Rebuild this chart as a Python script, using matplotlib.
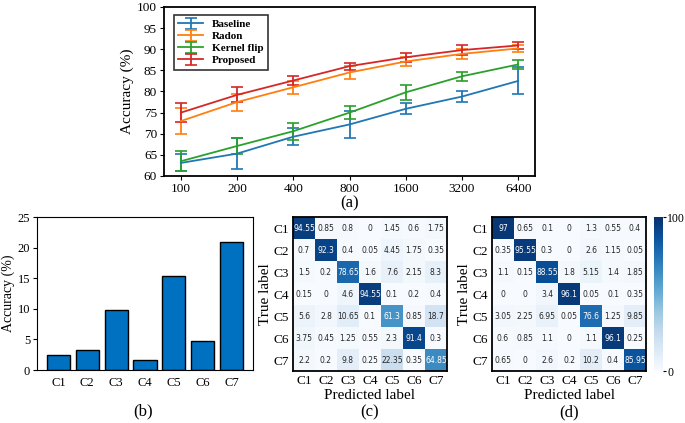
import numpy as np
import matplotlib
matplotlib.use("Agg")
import matplotlib.pyplot as plt

plt.rcParams['font.family'] = 'Liberation Serif'
plt.rcParams['mathtext.fontset'] = 'stix'

# ---- data ----
sizes = ['100', '200', '400', '800', '1600', '3200', '6400']
baseline = [63.1, 65.3, 69.3, 72.2, 75.9, 78.8, 82.5]
baseline_err = [2.0, 3.7, 2.0, 3.3, 1.3, 1.4, 3.2]
radon = [73.0, 77.5, 81.0, 84.5, 87.1, 88.9, 90.2]
radon_err = [3.0, 2.0, 1.6, 1.6, 1.1, 1.2, 0.8]
kflip = [63.5, 67.1, 70.6, 75.0, 79.8, 83.6, 86.4]
kflip_err = [2.3, 2.0, 2.0, 1.5, 1.8, 1.0, 1.0]
proposed = [75.0, 79.2, 82.6, 86.0, 88.1, 89.8, 90.9]
proposed_err = [2.3, 1.8, 1.1, 0.85, 1.1, 1.1, 0.8]

classes = ['C1', 'C2', 'C3', 'C4', 'C5', 'C6', 'C7']
improvement = [2.45, 3.2, 9.85, 1.6, 15.3, 4.7, 20.9]

cm_c = np.array([
    [94.55, 0.85, 0.8, 0, 1.45, 0.6, 1.75],
    [0.7, 92.3, 0.4, 0.05, 4.45, 1.75, 0.35],
    [1.5, 0.2, 78.65, 1.6, 7.6, 2.15, 8.3],
    [0.15, 0, 4.6, 94.55, 0.1, 0.2, 0.4],
    [5.6, 2.8, 10.65, 0.1, 61.3, 0.85, 18.7],
    [3.75, 0.45, 1.25, 0.55, 2.3, 91.4, 0.3],
    [2.2, 0.2, 9.8, 0.25, 22.35, 0.35, 64.85]])
cm_d = np.array([
    [97, 0.65, 0.1, 0, 1.3, 0.55, 0.4],
    [0.35, 95.55, 0.3, 0, 2.6, 1.15, 0.05],
    [1.1, 0.15, 88.55, 1.8, 5.15, 1.4, 1.85],
    [0, 0, 3.4, 96.1, 0.05, 0.1, 0.35],
    [3.05, 2.25, 6.95, 0.05, 76.6, 1.25, 9.85],
    [0.6, 0.85, 1.1, 0, 1.1, 96.1, 0.25],
    [0.65, 0, 2.6, 0.2, 10.2, 0.4, 85.95]])

W, H = 685., 423.
fig = plt.figure(figsize=(W/100, H/100), dpi=100)

def box(l, r, t, b):
    return [l/W, 1-b/H, (r-l)/W, (b-t)/H]

# %% (a) accuracy vs training size
ax1 = fig.add_axes(box(164, 535, 7, 176))
x = np.arange(len(sizes))
colors = plt.rcParams['axes.prop_cycle'].by_key()['color']
for y, e, c, lab in [(baseline, baseline_err, colors[0], 'Baseline'),
                     (radon, radon_err, colors[1], 'Radon'),
                     (kflip, kflip_err, colors[2], 'Kernel flip'),
                     (proposed, proposed_err, colors[3], 'Proposed')]:
    ax1.errorbar(x, y, yerr=e, color=c, label=lab, capsize=4, linewidth=1.3, capthick=1.2)
ax1.set_xticks(x)
ax1.set_xticklabels(sizes)
ax1.set_ylim(60, 100)
ax1.set_yticks(np.arange(60, 101, 5))
ax1.set_ylabel('Accuracy (%)', fontsize=11, labelpad=2)
ax1.tick_params(labelsize=9.5, length=3, pad=2)
for s in ax1.spines.values():
    s.set_linewidth(1.3)
leg = ax1.legend(loc='upper left', fancybox=False, edgecolor='black',
                 prop={'weight': 'bold', 'size': 8}, borderpad=0.4, labelspacing=0.2,
                 handlelength=2.2, bbox_to_anchor=(0.012, 0.985))
leg.get_frame().set_linewidth(1.2)
fig.text(350/W, 1-203/H, '(a)', ha='center', va='center', fontsize=12)

# %% (b) improvement per class
ax2 = fig.add_axes(box(37, 253, 217, 370))
ax2.bar(classes, improvement, color='#0070C0', edgecolor='black', width=0.8, linewidth=1)
ax2.set_ylim(0, 25)
ax2.set_yticks(np.arange(0, 26, 5))
ax2.set_ylabel('Accuracy (%)', fontsize=10, labelpad=2)
ax2.tick_params(labelsize=9, length=3, pad=2)
ax2.tick_params(axis='x', length=0, pad=5)
fig.text(143/W, 1-411/H, '(b)', ha='center', va='center', fontsize=12)

# %% (c), (d) confusion matrices
cmap = plt.get_cmap('Blues')
def draw_cm(ax, cm):
    im = ax.imshow(cm, cmap=cmap, vmin=0, vmax=100, aspect='auto')
    for i in range(cm.shape[0]):
        for j in range(cm.shape[1]):
            v = cm[i, j]
            txt = '%g' % v
            ax.text(j, i, txt, ha='center', va='center', fontsize=5.5,
                    family='DejaVu Sans', color='white' if v > 50 else '#262626')
    ax.set_xticks(range(len(classes)))
    ax.set_yticks(range(len(classes)))
    ax.set_xticklabels(classes)
    ax.set_yticklabels(classes)
    ax.tick_params(length=0, labelsize=9.5, pad=3)
    ax.set_xlabel('Predicted label', fontsize=11, labelpad=1)
    ax.set_ylabel('True label', fontsize=11, labelpad=1)
    for s in ax.spines.values():
        s.set_linewidth(1.3)
    return im

ax3 = fig.add_axes(box(293, 447, 217, 371))
draw_cm(ax3, cm_c)
fig.text(370/W, 1-412/H, '(c)', ha='center', va='center', fontsize=12)

ax4 = fig.add_axes(box(492, 646, 217, 371))
im = draw_cm(ax4, cm_d)
fig.text(569/W, 1-412/H, '(d)', ha='center', va='center', fontsize=12)

cax = fig.add_axes(box(654, 663, 217, 371))
cb = fig.colorbar(im, cax=cax, ticks=[0, 100])
cb.outline.set_visible(False)
cax.tick_params(labelsize=8.5, length=2.5, pad=0.5)

fig.savefig('out.png', dpi=100)
